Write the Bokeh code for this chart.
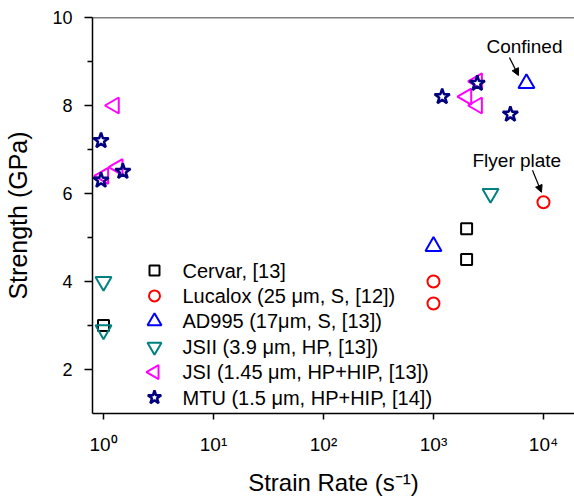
import numpy as np
from bokeh.plotting import figure
from bokeh.models import FixedTicker, Span, Arrow, NormalHead, Label
from bokeh.embed import file_html
from bokeh.resources import INLINE

# ---- data ----
cervar_x = [1, 2000, 2000]
cervar_y = [3.0, 5.2, 4.5]
lucalox_x = [1000, 1000, 10000]
lucalox_y = [4.0, 3.5, 5.8]
ad995_x = [1000, 7000]
ad995_y = [4.8, 8.5]
jsii_x = [1, 1, 3300]
jsii_y = [4.0, 2.9, 6.0]
jsi_x = [1.25, 1.0, 1.35, 2000, 2500, 2500]
jsi_y = [8.0, 6.4, 6.6, 8.2, 8.0, 8.55]
mtu_x = [0.95, 0.95, 1.5, 1200, 2500, 5000]
mtu_y = [7.2, 6.3, 6.5, 8.2, 8.5, 7.8]

series_labels = [
    "Cervar, [13]",
    "Lucalox (25 μm, S, [12])",
    "AD995 (17μm, S, [13])",
    "JSII (3.9 μm, HP, [13])",
    "JSI (1.45 μm, HP+HIP, [13])",
    "MTU (1.5 μm, HP+HIP, [14])",
]

x_ticks = [1, 10, 100, 1000, 10000]
x_tick_labels = ["10⁰", "10¹", "10²", "10³", "10⁴"]
y_ticks = [2, 4, 6, 8, 10]
y_minor_ticks = [3, 5, 7, 9]

x_title = "Strain Rate (s⁻¹)"
y_title = "Strength (GPa)"
ann_confined = "Confined"
ann_flyer = "Flyer plate"

FONT = "Liberation Sans"

x_lo, x_hi = 10 ** -0.1, 10 ** 4.282
y_lo, y_hi = 1, 10

W, H = 574, 498
BL, BR, BT, BB = 92, 0, 17, 85
FW, FH = W - BL - BR, H - BT - BB

p = figure(width=W, height=H, x_axis_type="log",
           x_range=(x_lo, x_hi), y_range=(y_lo, y_hi),
           output_backend="svg", toolbar_location=None,
           min_border_left=BL, min_border_right=BR,
           min_border_top=BT, min_border_bottom=BB)
p.outline_line_color = None
p.xgrid.visible = False
p.ygrid.visible = False
p.background_fill_color = "white"
p.border_fill_color = "white"

# pixel scales of the frame (for legend / annotation placement)
px_dec = FW / (np.log10(x_hi) - np.log10(x_lo))
px_unit = FH / (y_hi - y_lo)


def from_px(sx, sy):
    """frame pixel (from top-left) -> data coordinates"""
    return 10 ** (np.log10(x_lo) + sx / px_dec), y_hi - sy / px_unit


styles = [
    dict(marker="square", size=11, line_color="black"),
    dict(marker="circle", size=12, line_color="#FF0000"),
    dict(marker="triangle", size=16, line_color="#0000FF"),
    dict(marker="inverted_triangle", size=16, line_color="#008080"),
    dict(marker="triangle", size=16, line_color="#FF00FF", angle=np.pi / 2),
    dict(marker="star", size=16, line_color="#000080"),
]
series = [(cervar_x, cervar_y), (lucalox_x, lucalox_y), (ad995_x, ad995_y),
          (jsii_x, jsii_y), (jsi_x, jsi_y), (mtu_x, mtu_y)]
legend_sizes = [10, 11, 14, 14, 14, 14]

# manual legend (so the left-pointing triangle shows correctly)
leg_sx = 62          # marker centre, px from frame left
leg_sy0 = 253        # first row centre, px from frame top
leg_step = 25.4
for i, ((xs, ys), st) in enumerate(zip(series, styles)):
    lw = 2.5 if st["marker"] == "star" else 2
    p.scatter(xs, ys, fill_color=None, line_width=lw, **st)
    lx, ly = from_px(leg_sx, leg_sy0 + i * leg_step)
    lst = dict(st)
    lst["size"] = legend_sizes[i]
    p.scatter([lx], [ly], fill_color=None, line_width=lw, **lst)
    p.add_layout(Label(x=lx, y=ly, x_offset=28, text=series_labels[i],
                       text_align="left", text_baseline="middle",
                       text_font=FONT, text_font_size="20px", text_color="black"))

# axes
xa = p.xaxis[0]
xa.ticker = FixedTicker(ticks=x_ticks, minor_ticks=[])
xa.major_label_overrides = {t: l for t, l in zip(x_ticks, x_tick_labels)}
xa.major_tick_in = 0
xa.major_tick_out = 6
xa.minor_tick_in = 0
xa.minor_tick_out = 0
xa.major_label_standoff = 14
xa.axis_label = x_title
xa.axis_label_standoff = 11

ya = p.yaxis[0]
ya.ticker = FixedTicker(ticks=y_ticks, minor_ticks=y_minor_ticks)
ya.major_tick_in = 0
ya.major_tick_out = 8
ya.minor_tick_in = 0
ya.minor_tick_out = 5
ya.major_label_standoff = 12
ya.axis_label = y_title
ya.axis_label_standoff = 17

for ax in (xa, ya):
    ax.axis_line_width = 1.5
    ax.major_tick_line_width = 1.5
    ax.minor_tick_line_width = 1.5
    ax.axis_line_color = "black"
    ax.major_tick_line_color = "black"
    ax.minor_tick_line_color = "black"
    ax.major_label_text_font = FONT
    ax.major_label_text_font_size = "19px"
    ax.major_label_text_color = "black"
    ax.axis_label_text_font = FONT
    ax.axis_label_text_font_style = "normal"
    ax.axis_label_text_color = "black"
xa.axis_label_text_font_size = "24px"
ya.axis_label_text_font_size = "25px"
ya.major_label_text_font_size = "18px"

p.add_layout(Span(location=y_hi, dimension="width", line_color="black", line_width=1.5))


def shift(x, y, dx_px, dy_px):
    return x * 10 ** (dx_px / px_dec), y + dy_px / px_unit


# annotations tied to the annotated points
cx, cy = ad995_x[1], ad995_y[1]
fx, fy = lucalox_x[2], lucalox_y[2]
for (px, py, txt, tdx, tdy, s, e) in [
    (cx, cy, ann_confined, -40, 37, (-17, 26), (-8, 8)),
    (fx, fy, ann_flyer, -71, 42, (-11, 32), (-2, 10)),
]:
    p.add_layout(Label(x=px, y=py, x_offset=tdx, y_offset=tdy, text=txt,
                       text_align="left", text_baseline="middle",
                       text_font=FONT, text_font_size="19px", text_color="black"))
    xs, ys = shift(px, py, *s)
    xe, ye = shift(px, py, *e)
    p.add_layout(Arrow(x_start=xs, y_start=ys, x_end=xe, y_end=ye,
                       line_color="black", line_width=1.2,
                       end=NormalHead(size=7, fill_color="black", line_color="black")))

open("out.html", "w").write(file_html(p, INLINE))
